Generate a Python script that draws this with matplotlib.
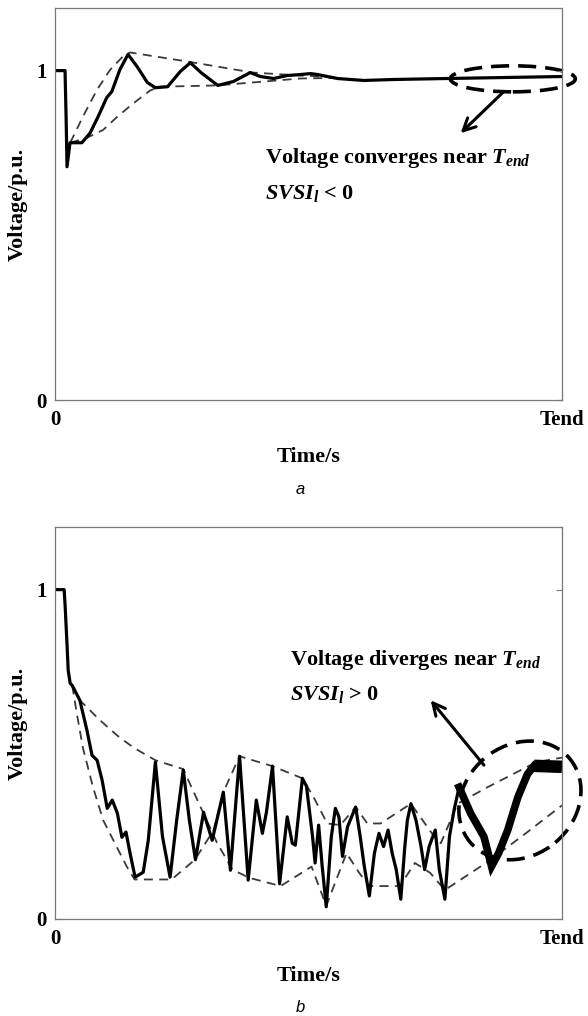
import matplotlib
matplotlib.use("Agg")
import matplotlib.pyplot as plt
import matplotlib.transforms as mtransforms
from matplotlib.patches import Ellipse

plt.rcParams['font.family'] = ['Liberation Serif', 'DejaVu Serif']
plt.rcParams['font.weight'] = 'bold'
plt.rcParams['mathtext.fontset'] = 'custom'
plt.rcParams['mathtext.it'] = 'Liberation Serif:bold:italic'
plt.rcParams['mathtext.rm'] = 'Liberation Serif:bold'
plt.rcParams['mathtext.bf'] = 'Liberation Serif:bold'

# ---------------- data (x as fraction of Tend, y in p.u.) ----------------
a_t = [0, 0.0198, 0.022, 0.0237, 0.0296, 0.034, 0.053, 0.069, 0.085, 0.102, 0.112,
       0.128, 0.144, 0.162, 0.182, 0.198, 0.222, 0.247, 0.267, 0.288, 0.321,
       0.352, 0.385, 0.405, 0.431, 0.458, 0.484, 0.504, 0.518, 0.557, 0.609,
       0.668, 0.775, 1.0]
a_v = [1.0, 1.0, 0.85, 0.708, 0.781, 0.781, 0.781, 0.81, 0.86, 0.918, 0.936,
       1.003, 1.049, 1.012, 0.964, 0.948, 0.951, 0.997, 1.024, 0.994, 0.955,
       0.967, 0.994, 0.982, 0.976, 0.985, 0.988, 0.991, 0.988, 0.976, 0.970,
       0.973, 0.976, 0.982]
a_up_t = [0.030, 0.055, 0.083, 0.109, 0.134, 0.148, 0.263, 0.390, 0.484, 0.56]
a_up_v = [0.781, 0.86, 0.942, 1.003, 1.043, 1.055, 1.027, 0.994, 0.985, 0.980]
a_lo_t = [0.030, 0.063, 0.095, 0.123, 0.154, 0.188, 0.208, 0.320, 0.484, 0.56]
a_lo_v = [0.781, 0.796, 0.82, 0.86, 0.90, 0.94, 0.951, 0.955, 0.976, 0.978]

b_t = [0, 0.018, 0.020, 0.024, 0.026, 0.030, 0.034, 0.049, 0.063, 0.073, 0.083,
       0.093, 0.103, 0.113, 0.123, 0.132, 0.140, 0.148, 0.158, 0.174, 0.184,
       0.198, 0.212, 0.227, 0.240, 0.253, 0.265, 0.277, 0.293, 0.310, 0.332,
       0.346, 0.364, 0.381, 0.397, 0.409, 0.417, 0.429, 0.443, 0.458, 0.468,
       0.474, 0.488, 0.496, 0.508, 0.513, 0.520, 0.527, 0.535, 0.545, 0.553,
       0.560, 0.567, 0.577, 0.593, 0.602, 0.610, 0.620, 0.630, 0.639, 0.648,
       0.657, 0.665, 0.673, 0.682, 0.690, 0.695, 0.702, 0.712, 0.722, 0.729,
       0.738, 0.750, 0.758, 0.769, 0.778, 0.787, 0.797]
b_v = [1.0, 1.0, 0.95, 0.824, 0.755, 0.715, 0.709, 0.664, 0.573, 0.497, 0.482,
       0.421, 0.336, 0.361, 0.321, 0.248, 0.264, 0.20, 0.127, 0.142, 0.239,
       0.476, 0.25, 0.127, 0.30, 0.452, 0.30, 0.18, 0.324, 0.239, 0.385,
       0.148, 0.494, 0.118, 0.361, 0.26, 0.324, 0.464, 0.107, 0.31, 0.23,
       0.224, 0.427, 0.403, 0.25, 0.17, 0.285, 0.16, 0.037, 0.25, 0.336,
       0.31, 0.19, 0.28, 0.34, 0.25, 0.16, 0.07, 0.20, 0.26, 0.22,
       0.27, 0.20, 0.15, 0.06, 0.22, 0.30, 0.35, 0.30, 0.22, 0.15,
       0.22, 0.27, 0.15, 0.06, 0.25, 0.33, 0.40]
# fast-oscillating divergence part near Tend
b_end_t = [0.797, 0.820, 0.846, 0.861, 0.875, 0.893, 0.913, 0.932, 0.945]
b_end_v = [0.40, 0.32, 0.25, 0.16, 0.20, 0.27, 0.37, 0.44, 0.465]
b_flat_t = [0.945, 1.0]
b_flat_v = [0.465, 0.462]

b_envA_t = [0.034, 0.049, 0.089, 0.122, 0.155, 0.198, 0.253, 0.290, 0.320, 0.350,
            0.383, 0.445, 0.506, 0.535, 0.575, 0.600, 0.620, 0.680, 0.710, 0.740,
            0.769, 0.850, 0.920, 1.0]
b_envA_v = [0.709, 0.664, 0.603, 0.558, 0.520, 0.482, 0.455, 0.33, 0.23, 0.15,
            0.125, 0.10, 0.159, 0.04, 0.20, 0.14, 0.10, 0.10, 0.17, 0.14,
            0.088, 0.17, 0.25, 0.345]
b_envB_t = [0.034, 0.043, 0.055, 0.075, 0.095, 0.122, 0.142, 0.157, 0.230, 0.276,
            0.313, 0.332, 0.364, 0.429, 0.488, 0.510, 0.537, 0.563, 0.593, 0.616,
            0.642, 0.702, 0.748, 0.761, 0.794, 0.853, 0.949, 1.0]
b_envB_v = [0.709, 0.624, 0.52, 0.40, 0.30, 0.218, 0.158, 0.12, 0.12, 0.18,
            0.27, 0.385, 0.494, 0.464, 0.427, 0.37, 0.29, 0.285, 0.34, 0.29,
            0.29, 0.35, 0.25, 0.23, 0.35, 0.40, 0.476, 0.49]

x_ticks = [0, 1]
x_ticklabels = ['0', 'Tend']
y_ticks = [0, 1]
y_ticklabels = ['0', '1']

# ---------------- figure ----------------
W, H = 588, 1016
fig = plt.figure(figsize=(W / 100, H / 100), dpi=100)
fig.patch.set_facecolor('white')

def make_axes(top_px, bottom_px):
    ax = fig.add_axes([55 / W, 1 - bottom_px / H, 507 / W, (bottom_px - top_px) / H])
    ax.set_xlim(0, 1)
    ax.set_ylim(0, 1.19)
    ax.set_xticks(x_ticks)
    ax.set_xticklabels(x_ticklabels, fontsize=15, fontweight='bold')
    ax.set_yticks(y_ticks)
    ax.set_yticklabels(y_ticklabels, fontsize=15, fontweight='bold')
    ax.tick_params(axis='x', length=0, pad=7)
    ax.tick_params(axis='y', direction='in', length=4, width=0.8, color='#777777',
                   right=True, pad=6)
    for s in ax.spines.values():
        s.set_color('#777777')
        s.set_linewidth(0.9)
    return ax

ax1 = make_axes(8, 400)
ax2 = make_axes(527, 919)

dash_kw = dict(color='#3a3a3a', lw=1.3, ls=(0, (5, 3.5)))
main_kw = dict(color='black', lw=2.3, solid_joinstyle='round')

# panel a
ax1.plot(a_up_t, a_up_v, **dash_kw)
ax1.plot(a_lo_t, a_lo_v, **dash_kw)
ax1.plot(a_t, a_v, **main_kw)

# panel b
ax2.plot(b_envA_t, b_envA_v, **dash_kw)
ax2.plot(b_envB_t, b_envB_v, **dash_kw)
ax2.plot(b_t, b_v, **main_kw)
ax2.plot(b_end_t, b_end_v, color='black', lw=5.5, solid_joinstyle='miter')
ax2.plot(b_flat_t, b_flat_v, color='black', lw=9, solid_capstyle='butt')

def add_ellipse(ax, cx, cy, w_in, h_in, ang):
    tr = fig.dpi_scale_trans + mtransforms.ScaledTranslation(cx, cy, ax.transData)
    e = Ellipse((0, 0), w_in, h_in, angle=ang, transform=tr, fill=False,
                lw=2.6, ls=(0, (5, 2.5)), edgecolor='black', clip_on=False)
    ax.add_patch(e)

add_ellipse(ax1, 0.903, 0.975, 1.25, 0.26, 0)
add_ellipse(ax2, 0.917, 0.36, 1.30, 1.10, 40)

arrow_kw = dict(arrowstyle='->', lw=2.2, color='black', mutation_scale=22,
                shrinkA=0, shrinkB=0)
ax1.annotate('', xy=(0.80, 0.81), xytext=(0.885, 0.936), arrowprops=arrow_kw)
ax2.annotate('', xy=(0.741, 0.664), xytext=(0.846, 0.467), arrowprops=arrow_kw)

ax1.text(0.415, 0.735, r'Voltage converges near $T_{end}$', fontsize=16,
         fontweight='bold', va='center', ha='left')
ax1.text(0.415, 0.628, r'$SVSI_l$ < 0', fontsize=16, va='center', ha='left')
ax2.text(0.464, 0.785, r'Voltage diverges near $T_{end}$', fontsize=16,
         fontweight='bold', va='center', ha='left')
ax2.text(0.464, 0.683, r'$SVSI_l$ > 0', fontsize=16, va='center', ha='left')

for ax, top, bot, cap, lbl in [(ax1, 8, 400, 490, 'a'), (ax2, 527, 919, 1007, 'b')]:
    fig.text(309 / W, 1 - (bot + 57) / H, 'Time/s', fontsize=16, fontweight='bold',
             ha='center', va='center')
    fig.text(18 / W, 1 - ((top + bot) / 2) / H, 'Voltage/p.u.', fontsize=16,
             fontweight='bold', rotation=90, ha='center', va='center')
    fig.text(300 / W, 1 - cap / H, lbl, fontsize=12, fontstyle='italic',
             fontweight='normal', family=['Liberation Sans', 'DejaVu Sans'],
             ha='center', va='center')

fig.savefig('out.png', dpi=100, facecolor='white')
